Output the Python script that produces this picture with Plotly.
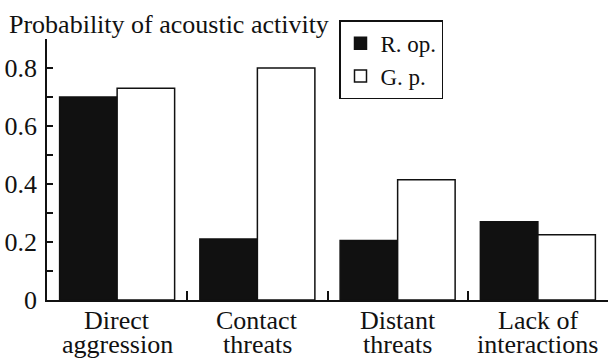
import plotly.graph_objects as go

categories = ["Direct aggression", "Contact threats", "Distant threats", "Lack of interactions"]
label_line1 = ["Direct", "Contact", "Distant", "Lack of"]
label_line2 = ["aggression", "threats", "threats", "interactions"]
r_op = [0.70, 0.21, 0.205, 0.27]
g_p = [0.73, 0.80, 0.415, 0.225]
y_tickvals = [0, 0.2, 0.4, 0.6, 0.8]
y_ticktext = ["0", "0.2", "0.4", "0.6", "0.8"]

FONT = "Liberation Serif"
INK = "#111111"

fig = go.Figure()
fig.add_trace(go.Bar(name="R. op.", x=categories, y=r_op,
                     marker=dict(color=INK, line=dict(color=INK, width=1.5))))
fig.add_trace(go.Bar(name="G. p.", x=categories, y=g_p,
                     marker=dict(color="white", line=dict(color=INK, width=1.5))))

# two-line category labels with tight line spacing
for cat, t1, t2 in zip(categories, label_line1, label_line2):
    fig.add_annotation(x=cat, xref="x", y=-0.077, yref="paper", text=t1,
                       showarrow=False, yanchor="middle",
                       font=dict(family=FONT, size=26, color=INK))
    fig.add_annotation(x=cat, xref="x", y=-0.169, yref="paper", text=t2,
                       showarrow=False, yanchor="middle",
                       font=dict(family=FONT, size=26, color=INK))

fig.update_layout(
    width=608, height=364,
    margin=dict(l=47, r=0, t=39, b=64, autoexpand=False),
    paper_bgcolor="white", plot_bgcolor="white",
    barmode="group", bargap=0.18, bargroupgap=0,
    font=dict(family=FONT, size=26, color=INK),
    title=dict(text="Probability of acoustic activity", xref="container", x=9/608,
               xanchor="left", yref="container", y=0.958, yanchor="top",
               font=dict(family=FONT, size=26, color=INK)),
    legend=dict(x=0.5205, y=1.072, xanchor="left", yanchor="top",
                bordercolor=INK, borderwidth=1.5, bgcolor="white",
                font=dict(family=FONT, size=23, color=INK)),
    xaxis=dict(range=[-0.5, 3.5], tickvals=categories, showticklabels=False,
               showline=True, linecolor=INK, linewidth=1.5,
               ticks="inside", tickson="boundaries", ticklen=9, tickcolor=INK, tickwidth=1.5,
               showgrid=False, zeroline=False),
    yaxis=dict(range=[0, 0.9], tickvals=y_tickvals, ticktext=y_ticktext,
               showline=True, linecolor=INK, linewidth=1.5,
               ticks="inside", ticklen=6, tickcolor=INK, tickwidth=1.5,
               minor=dict(tickvals=[0.1, 0.3, 0.5, 0.7], ticks="inside", ticklen=6,
                          tickcolor=INK, tickwidth=1.5),
               showgrid=False, zeroline=False, ticklabelstandoff=3),
)

fig.write_html("out.html", config={"displayModeBar": False},
               post_script="document.body.style.margin='0';")
